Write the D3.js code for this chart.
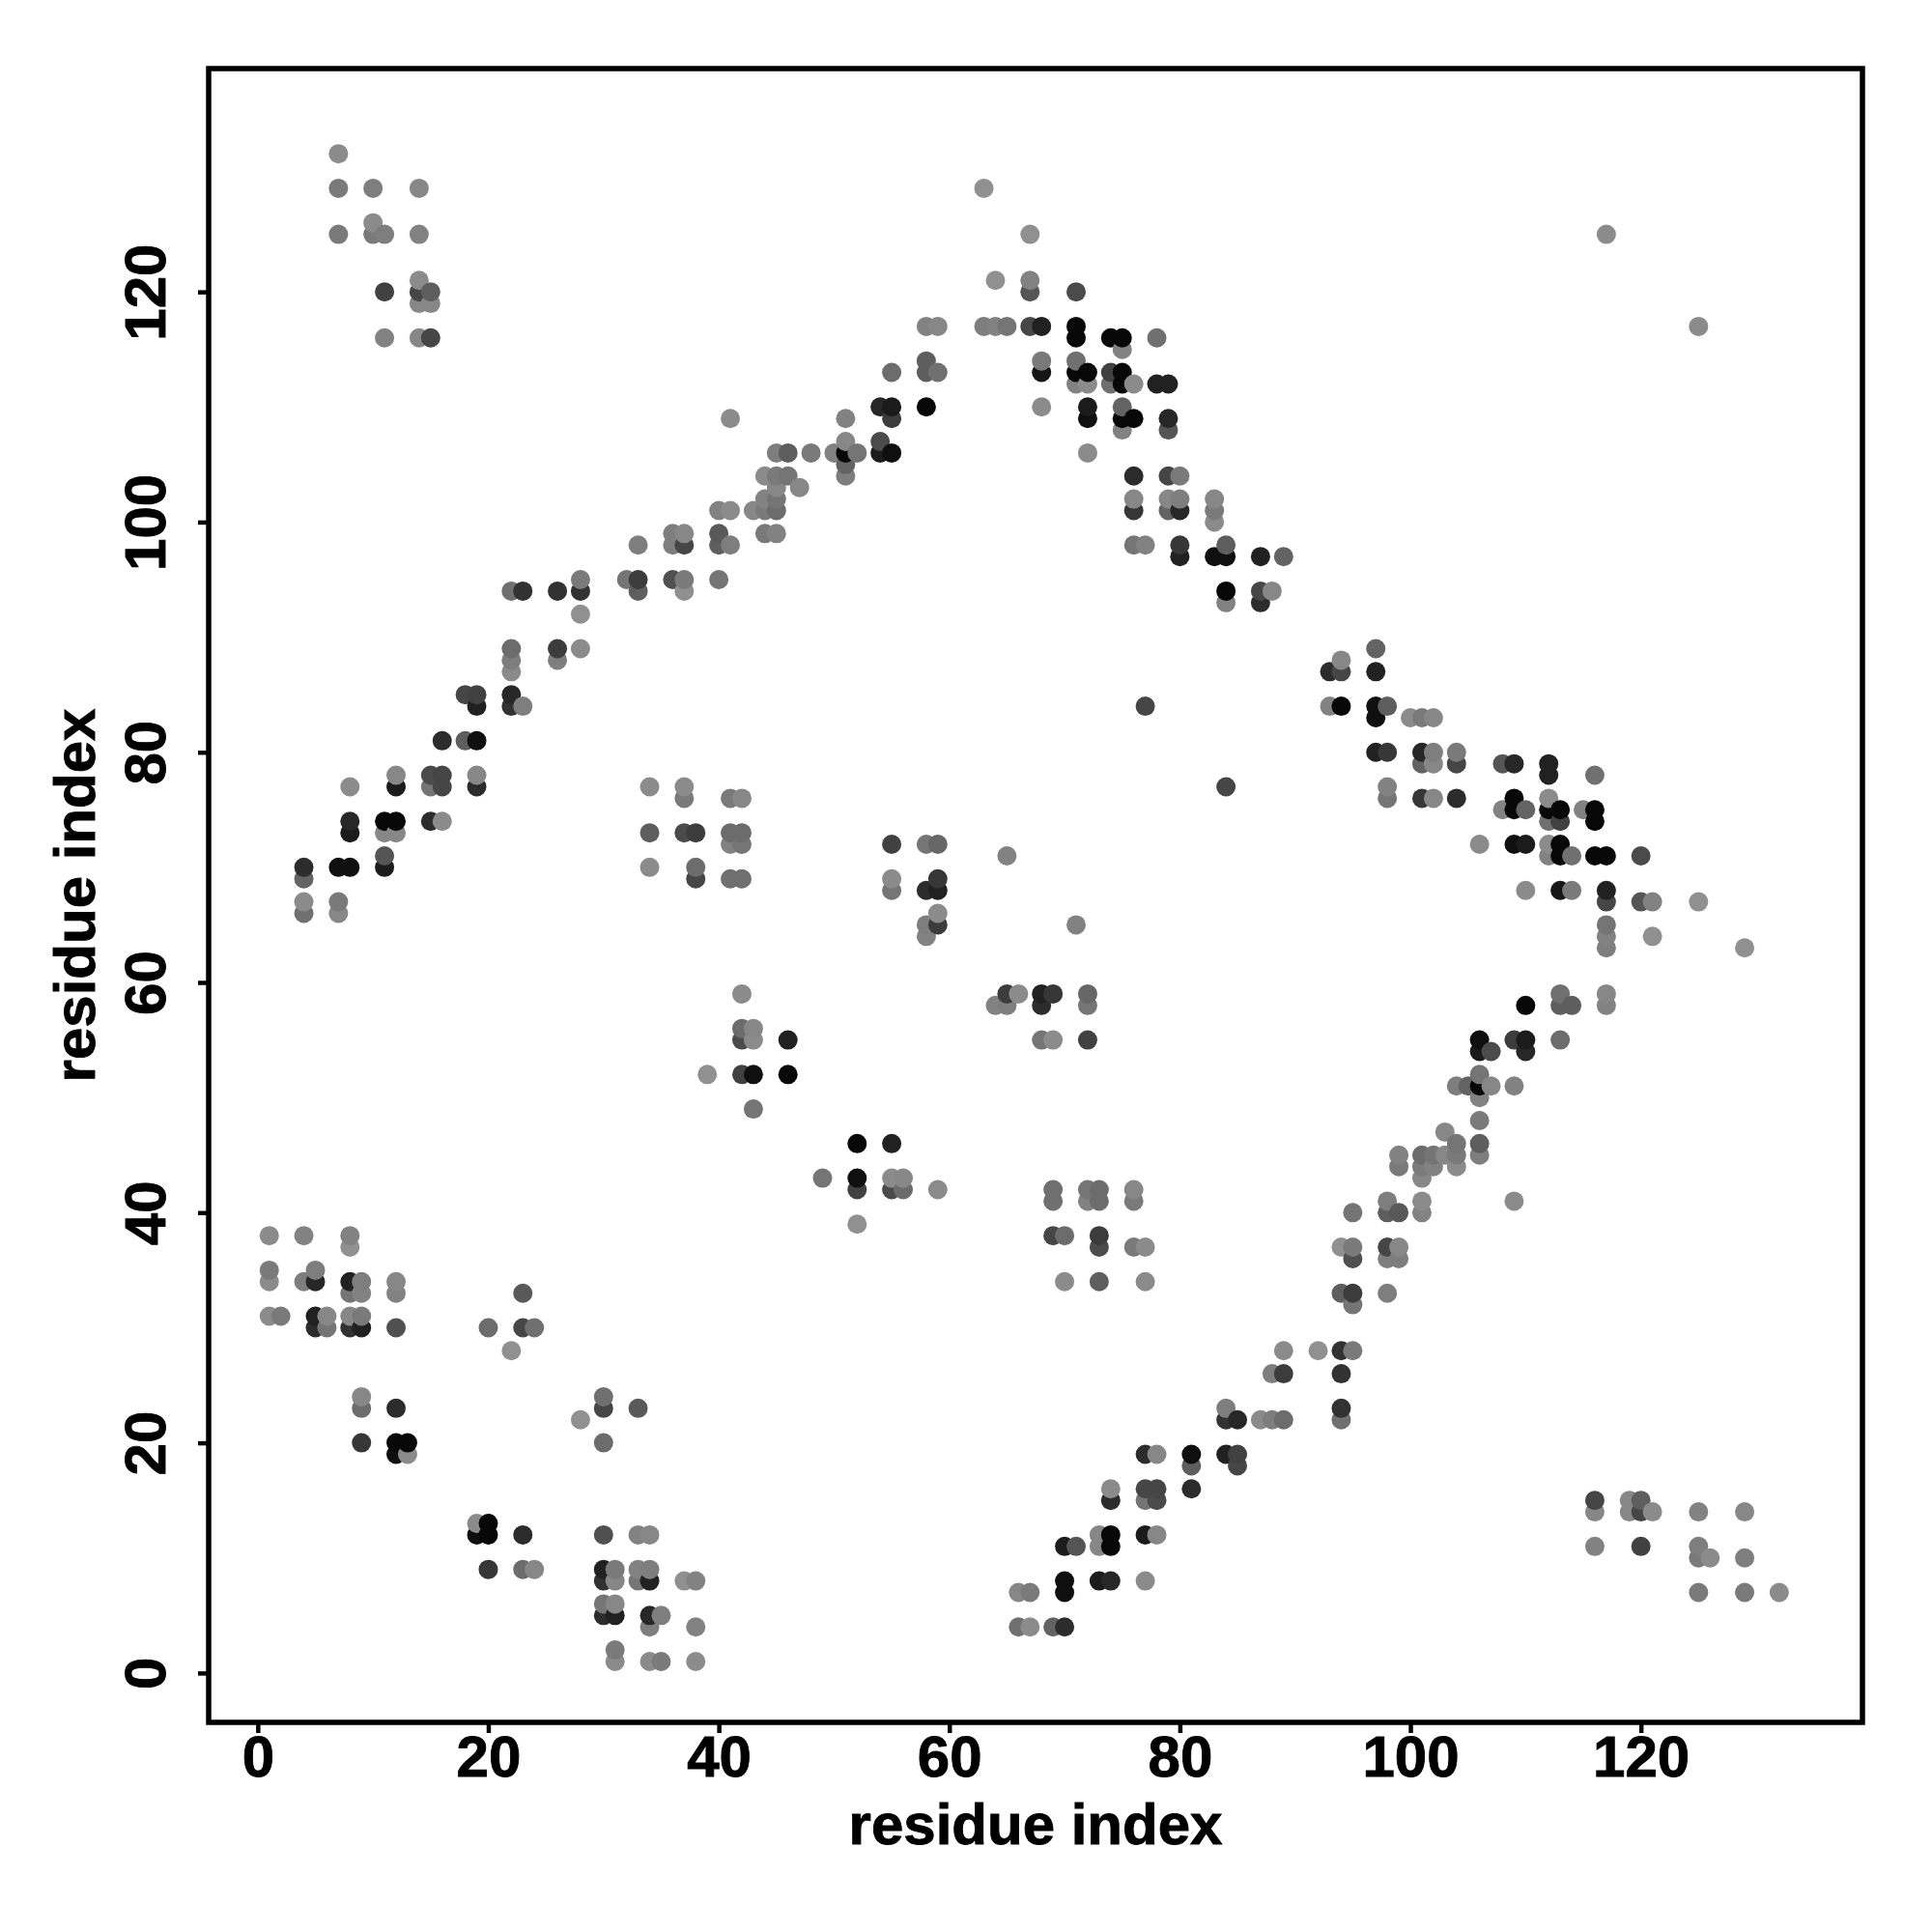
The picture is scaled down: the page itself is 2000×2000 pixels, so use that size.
<!DOCTYPE html>
<html>
<head>
<meta charset="utf-8">
<style>html,body{margin:0;padding:0;background:#fff}svg{display:block}</style>
<script src="https://cdn.jsdelivr.net/npm/d3@7/dist/d3.min.js"></script>
</head>
<body>
<div id="chart"></div>
<script>
const axisLabel = "residue index";
const tickValues = [0, 20, 40, 60, 80, 100, 120];
const xDomain = [-4.26, 139.22];
const yDomain = [-4.29, 139.4];

// Contacts are symmetric: each residue lists partners with a higher index.
const contactResidue = [1,2,4,5,6,7,8,9,10,11,12,13,14,15,16,18,19,20,22,23,24,26,28,32,33,34,36,37,38,39,40,41,42,43,44,45,46,47,48,50,51,52,54,55,58,59,63,64,65,67,68,71,72,74,75,76,77,78,79,80,83,84,87,88,89,117];
const contactPartners = [
  [31,34,35,38],
  [31],
  [34,38,66,67,69,70],
  [30,31,34,35],
  [30,31],
  [66,67,70,125,129,132],
  [30,31,33,34,37,38,70,73,74,77],
  [20,23,24,30,31,33,34],
  [125,126,129],
  [70,71,73,74,116,120,125],
  [19,20,23,30,33,34,73,74,77,78],
  [19,20],
  [116,119,120,121,125,129],
  [74,77,78,116,119,120],
  [74,77,78,81],
  [81,85],
  [77,78,81,84,85],
  [30],
  [28,84,85,87,88,89,94],
  [30,33,84,94],
  [30],
  [88,89,94],
  [89,92,94,95],
  [95],
  [94,95,98],
  [70,73,77],
  [95,98,99],
  [73,76,77,94,95,98,99],
  [69,70,73],
  [52],
  [95,98,99,101],
  [69,72,73,76,98,101,109],
  [52,55,56,59,69,72,73,76],
  [49,52,55,56,101],
  [99,101,102,104],
  [99,101,102,103,104,106],
  [52,55,104,106],
  [103],
  [106],
  [106],
  [104,105,106,107,109],
  [106],
  [106,107,110],
  [68,69,72,106,109,110,113],
  [64,65,68,72,110,113,114,117],
  [65,66,68,69,72,113,117],
  [117,129],
  [117,121],
  [71,117],
  [117,120,121,125],
  [110,113,114,117],
  [112,113,114,116,117,120],
  [106,109,110,112,113],
  [112,113,116],
  [108,109,110,112,113,115,116],
  [98,101,102,104,109,112],
  [84,98],
  [112,116],
  [101,102,104,108,109,112],
  [97,98,101,102,104],
  [97,100,101,102],
  [93,94,97,98],
  [93,94,97],
  [94],
  [97],
  [125]
];
// Higher weakness means a fainter contact.
const contactWeakness = [
  [135,135,115,135],
  [115],
  [120,125,105,135,90,35],
  [35,25,30,120],
  [110,130],
  [130,115,10,115,115,135],
  [40,130,110,25,140,125,10,20,30,135],
  [45,100,130,25,115,125,120],
  [115,135,120],
  [20,75,130,5,125,55,120],
  [10,5,35,70,125,130,130,5,20,130],
  [135,5],
  [130,130,60,135,125,130],
  [35,110,65,60,130,85],
  [135,60,60,35],
  [85,60],
  [35,130,10,25,55],
  [100],
  [140,40,30,135,120,100,105],
  [60,80,120,40],
  [105],
  [120,50,40],
  [135,140,40,115],
  [110],
  [85,50,120],
  [135,85,135],
  [70,120,120],
  [65,115,135,140,115,60,130],
  [60,100,50],
  [140],
  [110,85,80,125],
  [105,125,100,115,120,135,135],
  [55,65,100,135,105,110,100,130],
  [110,10,135,130,130],
  [115,115,125,135],
  [125,100,110,130,115,120],
  [5,25,110,85],
  [130],
  [115],
  [125],
  [120,90,5,130,125],
  [110],
  [20,65,30],
  [110,135,55,10,50,20,100],
  [125,120,35,110,5,85,85,125],
  [50,135,25,45,95,105,130],
  [120,140],
  [125,140],
  [125,110],
  [60,75,125,140],
  [135,15,115,25],
  [125,5,105,5,5,65],
  [135,10,20,135,5],
  [105,55,5],
  [125,5,90,5,5,125,5],
  [110,45,130,35,5,135],
  [60,125],
  [25,105],
  [90,130,60,75,30,25],
  [25,45,30,120,115],
  [10,135,115,130],
  [125,5,10,85],
  [35,60,25],
  [130],
  [90],
  [135]
];

const width = 2000, height = 2000;
const left = 216, right = 1928, top_ = 71, bottom = 1783;

const x = d3.scaleLinear().domain(xDomain).range([left, right]);
const y = d3.scaleLinear().domain(yDomain).range([bottom, top_]);
const shade = d3.scalePow().exponent(0.85).domain([0, 145]).range(["#000000", "#949494"]);

const contacts = [];
contactResidue.forEach((a, r) => {
  contactPartners[r].forEach((b, k) => {
    const w = contactWeakness[r][k];
    contacts.push({i: a, j: b, w});
    contacts.push({i: b, j: a, w});
  });
});
contacts.sort((p, q) => d3.ascending(p.i, q.i) || d3.ascending(p.j, q.j));

const svg = d3.select("#chart").append("svg")
  .attr("width", width).attr("height", height)
  .attr("viewBox", `0 0 ${width} ${height}`)
  .style("font-family", "'Liberation Sans', Arial, sans-serif")
  .style("font-weight", "bold");

svg.append("g").selectAll("circle").data(contacts).join("circle")
  .attr("cx", d => x(d.i))
  .attr("cy", d => y(d.j))
  .attr("r", 10)
  .attr("fill", d => shade(d.w));

const xAxis = svg.append("g")
  .attr("transform", `translate(0,${bottom})`)
  .call(d3.axisBottom(x).tickValues(tickValues).tickFormat(d3.format("d")).tickSize(11).tickPadding(8));
const yAxis = svg.append("g")
  .attr("transform", `translate(${left},0)`)
  .call(d3.axisLeft(y).tickValues(tickValues).tickFormat(d3.format("d")).tickSize(11));

[xAxis, yAxis].forEach(g => {
  g.select(".domain").remove();
  g.selectAll(".tick line").attr("stroke", "#000").attr("stroke-width", 4.5);
  g.selectAll(".tick text")
    .attr("fill", "#000")
    .attr("stroke", "#000")
    .attr("stroke-width", 0.9)
    .style("font-family", "'Liberation Sans', Arial, sans-serif")
    .style("font-weight", "bold")
    .style("font-size", "60px");
});
xAxis.selectAll(".tick text").attr("dy", null).attr("y", 56);
yAxis.selectAll(".tick text")
  .attr("text-anchor", "middle")
  .attr("dy", null)
  .attr("x", null)
  .attr("transform", function () {
    return `translate(-45,0) rotate(-90)`;
  });

svg.append("rect")
  .attr("x", left).attr("y", top_)
  .attr("width", right - left).attr("height", bottom - top_)
  .attr("fill", "none").attr("stroke", "#000").attr("stroke-width", 5.5);

svg.append("text")
  .attr("x", (left + right) / 2).attr("y", 1909)
  .attr("text-anchor", "middle").attr("fill", "#000")
  .attr("stroke", "#000").attr("stroke-width", 0.9)
  .style("font-size", "60px")
  .text(axisLabel);
svg.append("text")
  .attr("transform", `translate(98,${(top_ + bottom) / 2}) rotate(-90)`)
  .attr("text-anchor", "middle").attr("fill", "#000")
  .attr("stroke", "#000").attr("stroke-width", 0.9)
  .style("font-size", "60px")
  .text(axisLabel);
</script>
</body>
</html>
